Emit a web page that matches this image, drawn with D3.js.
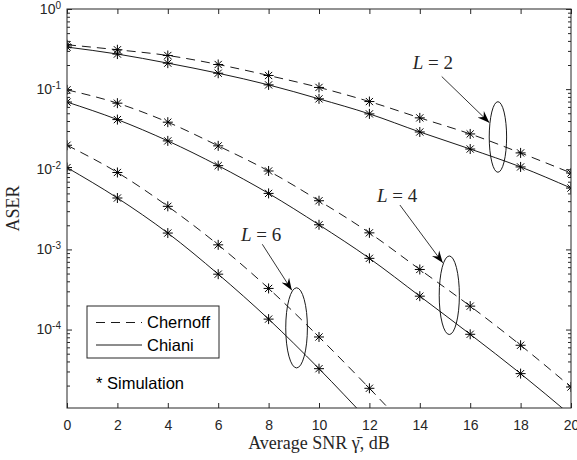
<!DOCTYPE html>
<html>
<head>
<meta charset="utf-8">
<script src="https://cdn.jsdelivr.net/npm/d3@7"></script>
<style>
  body { margin: 0; background: #fff; }
  .axis text { font-family: "Liberation Sans", Arial, sans-serif; font-size: 14px; fill: #262626; }
  .axis line { stroke: #262626; }
  .axis path { display: none; }
  .serif { font-family: "Liberation Serif", "Times New Roman", serif; fill: #262626; }
</style>
</head>
<body>
<div class="chart"></div>
<script>
var margin = {top: 9, right: 6, bottom: 52, left: 67};
var width = 577 - margin.left - margin.right;
var height = 460 - margin.top - margin.bottom;

// SNR grid (dB)
const snr = [0, 2, 4, 6, 8, 10, 12, 14, 16, 18, 20];
const xTicks = [0, 2, 4, 6, 8, 10, 12, 14, 16, 18, 20];
const yMajor = [1, 1e-1, 1e-2, 1e-3, 1e-4];

// ASER
const chernoffL2 = [0.358, 0.310, 0.263, 0.203, 0.148, 0.105, 0.070, 0.0438, 0.0276, 0.0160, 0.0090];
const chianiL2   = [0.335, 0.274, 0.211, 0.158, 0.113, 0.0756, 0.0491, 0.0292, 0.0179, 0.0107, 0.00583];
const chernoffL4 = [0.098, 0.0668, 0.0387, 0.0196, 0.00952, 0.00405, 0.00161, 5.62e-4, 1.96e-4, 6.37e-5, 1.92e-5];
const chianiL4   = [0.069, 0.0417, 0.0226, 0.0111, 0.0050, 2.03e-3, 7.74e-4, 2.61e-4, 8.73e-5, 2.82e-5, 8.5e-6];
const chernoffL6 = [0.01995, 9.12e-3, 3.45e-3, 1.14e-3, 3.26e-4, 8.08e-5, 1.85e-5, 4.0e-6];
const chianiL6   = [0.0105, 4.38e-3, 1.60e-3, 4.91e-4, 1.35e-4, 3.25e-5, 7.1e-6];

const series = [
    {name: 'Chernoff L=2', values: chernoffL2, dashed: true},
    {name: 'Chiani L=2', values: chianiL2, dashed: false},
    {name: 'Chernoff L=4', values: chernoffL4, dashed: true},
    {name: 'Chiani L=4', values: chianiL4, dashed: false},
    {name: 'Chernoff L=6', values: chernoffL6, dashed: true},
    {name: 'Chiani L=6', values: chianiL6, dashed: false}
];

// arrow + ellipse callouts, in data units (ry in decades)
const callouts = [
    {L: 2, tx: 14.52, ty: 0.213, ax: 14.87, ay: 0.1437, hx: 16.76, hy: 0.0382, cx: 17.10, cy: 0.0253, rx: 0.345, ry: 0.44},
    {L: 4, tx: 13.10, ty: 4.78e-3, ax: 13.21, ay: 3.58e-3, hx: 14.91, hy: 6.8e-4, cx: 15.17, cy: 2.68e-4, rx: 0.40, ry: 0.49},
    {L: 6, tx: 7.70, ty: 1.55e-3, ax: 7.75, ay: 1.16e-3, hx: 8.92, hy: 3.1e-4, cx: 9.11, cy: 1.05e-4, rx: 0.43, ry: 0.50}
];

var xScale = d3.scaleLinear()
    .domain([0, 20])
    .range([0, width]);

var yScale = d3.scaleLog()
    .domain([1.05e-5, 1])
    .range([height, 0]);

function minorTicks() {
    var out = [];
    for (var e = -5; e < 0; e++) {
        for (var m = 2; m <= 9; m++) {
            var v = m * Math.pow(10, e);
            if (v >= yScale.domain()[0] && v <= 1) out.push(v);
        }
    }
    return out;
}

var svg = d3.select('.chart').append('svg')
    .attr('width', 577)
    .attr('height', 460)
    .append('g')
    .attr('transform', `translate(${margin.left},${margin.top})`);

svg.append('defs').append('clipPath')
    .attr('id', 'plot-clip')
    .append('rect')
    .attr('width', width)
    .attr('height', height);

svg.select('defs').append('marker')
    .attr('id', 'head')
    .attr('markerUnits', 'userSpaceOnUse')
    .attr('viewBox', '-12 -6 14 12')
    .attr('markerWidth', 14)
    .attr('markerHeight', 12)
    .attr('refX', 0)
    .attr('refY', 0)
    .attr('orient', 'auto')
    .append('path')
    .attr('d', 'M0,0 L-12,-4.5 L-8,0 L-12,4.5 Z')
    .attr('fill', '#000');

function drawAxes(el) {
    // bottom, with labels
    el.append('g')
        .attr('class', 'axis axis--x')
        .attr('transform', `translate(0,${height})`)
        .call(d3.axisBottom(xScale).tickValues(xTicks).tickSizeInner(-5).tickSizeOuter(0).tickPadding(12).tickFormat(d3.format('d')));
    el.append('g')
        .attr('class', 'axis')
        .call(d3.axisTop(xScale).tickValues(xTicks).tickSizeInner(-5).tickSizeOuter(0).tickFormat(''));

    // left, majors with 10^k labels
    var left = el.append('g')
        .attr('class', 'axis axis--y')
        .call(d3.axisLeft(yScale).tickValues(yMajor).tickSizeInner(-5).tickSizeOuter(0).tickPadding(6).tickFormat(''));
    left.selectAll('.tick text').each(function(d) {
        var t = d3.select(this);
        t.append('tspan').attr('dy', '0.3em').text('10');
        t.append('tspan').attr('dy', '-0.5em').attr('font-size', '10px').text(Math.round(Math.log10(d)));
    });
    el.append('g')
        .attr('class', 'axis')
        .call(d3.axisLeft(yScale).tickValues(minorTicks()).tickSizeInner(-3).tickSizeOuter(0).tickFormat(''));

    // right, no labels
    el.append('g')
        .attr('class', 'axis')
        .attr('transform', `translate(${width},0)`)
        .call(d3.axisRight(yScale).tickValues(yMajor).tickSizeInner(-5).tickSizeOuter(0).tickFormat(''));
    el.append('g')
        .attr('class', 'axis')
        .attr('transform', `translate(${width},0)`)
        .call(d3.axisRight(yScale).tickValues(minorTicks()).tickSizeInner(-3).tickSizeOuter(0).tickFormat(''));

    el.append('rect')
        .attr('width', width)
        .attr('height', height)
        .attr('fill', 'none')
        .attr('stroke', '#262626')
        .attr('stroke-width', 1);

    el.append('text')
        .attr('class', 'serif')
        .attr('x', width / 2)
        .attr('y', height + 41)
        .attr('text-anchor', 'middle')
        .attr('font-size', '18px')
        .text('Average SNR \u03b3\u0304, dB');

    el.append('text')
        .attr('class', 'serif')
        .attr('transform', `translate(${-48},${height / 2}) rotate(-90)`)
        .attr('text-anchor', 'middle')
        .attr('font-size', '18px')
        .text('ASER');
}

function asterisk(g, size) {
    var r = size / 2, d = r * 0.72;
    g.append('path')
        .attr('d', `M0,${-r}V${r}M${-r},0H${r}M${-d},${-d}L${d},${d}M${-d},${d}L${d},${-d}`)
        .attr('stroke', '#000')
        .attr('stroke-width', 1)
        .attr('fill', 'none');
}

function drawSeries(el) {
    var plot = el.append('g').attr('clip-path', 'url(#plot-clip)');
    var line = d3.line()
        .x((d, i) => xScale(snr[i]))
        .y(d => yScale(d))
        .curve(d3.curveMonotoneX);

    plot.selectAll('.curve')
        .data(series)
        .enter().append('path')
        .attr('class', 'curve')
        .attr('d', d => line(d.values))
        .attr('fill', 'none')
        .attr('stroke', '#000')
        .attr('stroke-width', 0.9)
        .attr('stroke-dasharray', d => d.dashed ? '9,6' : null);

    series.forEach(function(s) {
        plot.selectAll(null)
            .data(s.values)
            .enter().append('g')
            .attr('transform', (d, i) => `translate(${xScale(snr[i])},${yScale(d)})`)
            .each(function() { asterisk(d3.select(this), 10); });
    });
}

function drawCallouts(el) {
    callouts.forEach(function(c) {
        var cy = yScale(c.cy);
        var ryPx = c.ry * (height / Math.log10(1 / yScale.domain()[0]));
        el.append('ellipse')
            .attr('cx', xScale(c.cx))
            .attr('cy', cy)
            .attr('rx', xScale(c.rx) - xScale(0))
            .attr('ry', ryPx)
            .attr('fill', 'none')
            .attr('stroke', '#000')
            .attr('stroke-width', 0.9);
        el.append('line')
            .attr('x1', xScale(c.ax)).attr('y1', yScale(c.ay))
            .attr('x2', xScale(c.hx)).attr('y2', yScale(c.hy))
            .attr('stroke', '#000')
            .attr('stroke-width', 0.8)
            .attr('marker-end', 'url(#head)');
        var t = el.append('text')
            .attr('class', 'serif')
            .attr('x', xScale(c.tx))
            .attr('y', yScale(c.ty))
            .attr('dy', '0.35em')
            .attr('text-anchor', 'middle')
            .attr('font-size', '19px');
        t.append('tspan').attr('font-style', 'italic').text('L');
        t.append('tspan').text(' = ' + c.L);
    });
}

function drawLegend(el) {
    var lg = el.append('g').attr('transform', 'translate(20,297)');
    lg.append('rect')
        .attr('width', 132)
        .attr('height', 52)
        .attr('fill', '#fff')
        .attr('stroke', '#262626')
        .attr('stroke-width', 1);
    var items = [{label: 'Chernoff', dashed: true}, {label: 'Chiani', dashed: false}];
    items.forEach(function(it, i) {
        var y = 16.5 + i * 22.5;
        lg.append('line')
            .attr('x1', 9).attr('x2', 55)
            .attr('y1', y).attr('y2', y)
            .attr('stroke', '#000')
            .attr('stroke-width', 0.9)
            .attr('stroke-dasharray', it.dashed ? '9,6' : null);
        lg.append('text')
            .attr('x', 60)
            .attr('y', y)
            .attr('dy', '0.35em')
            .attr('font-family', '"Liberation Sans", Arial, sans-serif')
            .attr('font-size', '16.5px')
            .attr('fill', '#000')
            .text(it.label);
    });
    lg.append('text')
        .attr('x', 9)
        .attr('y', 77)
        .attr('dy', '0.35em')
        .attr('font-family', '"Liberation Sans", Arial, sans-serif')
        .attr('font-size', '16.5px')
        .attr('fill', '#000')
        .text('* Simulation');
}

drawSeries(svg);
drawAxes(svg);
drawCallouts(svg);
drawLegend(svg);
</script>
</body>
</html>
